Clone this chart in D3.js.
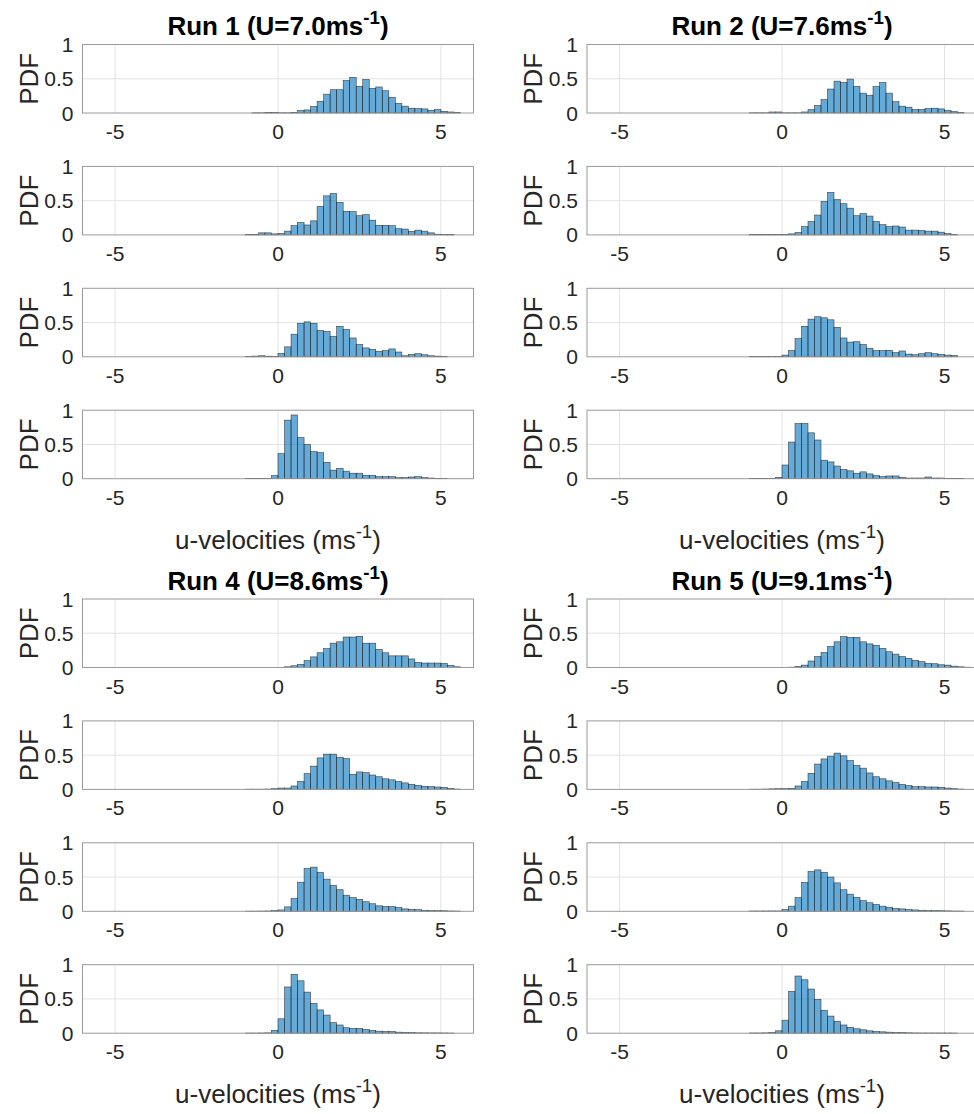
<!DOCTYPE html>
<html>
<head>
<meta charset="utf-8">
<script src="https://cdn.jsdelivr.net/npm/d3@7/dist/d3.min.js"></script>
<style>
  html, body { margin: 0; padding: 0; background: #ffffff; }
  svg { display: block; }
  text { font-family: "Liberation Sans", Arial, Helvetica, sans-serif; }
</style>
</head>
<body>
<svg id="chart" width="974" height="1114"></svg>
<script>
// Histogram bin edges (u-velocity, m/s)
const binEdges = [-5.8, -5.6, -5.4, -5.2, -5.0, -4.8, -4.6, -4.4, -4.2, -4.0,
  -3.8, -3.6, -3.4, -3.2, -3.0, -2.8, -2.6, -2.4, -2.2, -2.0,
  -1.8, -1.6, -1.4, -1.2, -1.0, -0.8, -0.6, -0.4, -0.2, 0.0,
  0.2, 0.4, 0.6, 0.8, 1.0, 1.2, 1.4, 1.6, 1.8, 2.0,
  2.2, 2.4, 2.6, 2.8, 3.0, 3.2, 3.4, 3.6, 3.8, 4.0,
  4.2, 4.4, 4.6, 4.8, 5.0, 5.2, 5.4, 5.6, 5.8];

// PDF values listed from the bin starting at this edge; bins to its left are empty
const firstListedEdge = -1.0;

// Run titles
const runNames = ["Run 1", "Run 2", "Run 4", "Run 5"];
const runSpeeds = ["7.0", "7.6", "8.6", "9.1"];

// PDF per run, one row per measurement height (top to bottom)
const pdfRun1 = [
  [0, 0.003, 0.003, 0.005, 0.005, 0.003, 0.003, 0.005, 0.035, 0.045, 0.095, 0.17, 0.275, 0.34, 0.34, 0.475, 0.52, 0.39, 0.49, 0.36, 0.38, 0.325, 0.23, 0.14, 0.10, 0.07, 0.065, 0.06, 0.04, 0.05, 0.025, 0.015, 0.005, 0],
  [0.003, 0.003, 0.03, 0.03, 0.015, 0.02, 0.055, 0.135, 0.18, 0.145, 0.205, 0.415, 0.57, 0.605, 0.475, 0.345, 0.34, 0.28, 0.295, 0.215, 0.14, 0.14, 0.135, 0.09, 0.085, 0.05, 0.07, 0.055, 0.03, 0.01, 0.005, 0.003, 0, 0],
  [0.003, 0.01, 0.015, 0.01, 0.003, 0.05, 0.145, 0.33, 0.49, 0.51, 0.49, 0.385, 0.37, 0.30, 0.445, 0.40, 0.275, 0.18, 0.13, 0.11, 0.08, 0.09, 0.115, 0.07, 0.015, 0.035, 0.045, 0.03, 0.015, 0.01, 0.005, 0, 0, 0],
  [0.005, 0.005, 0.005, 0.005, 0.045, 0.365, 0.855, 0.93, 0.60, 0.50, 0.395, 0.38, 0.24, 0.125, 0.15, 0.11, 0.08, 0.08, 0.05, 0.05, 0.03, 0.03, 0.03, 0.015, 0.015, 0.025, 0.03, 0.015, 0.01, 0.005, 0.003, 0, 0, 0]
];
const pdfRun2 = [
  [0.003, 0.003, 0.003, 0.015, 0.015, 0.003, 0.003, 0.003, 0.015, 0.05, 0.11, 0.195, 0.35, 0.465, 0.445, 0.495, 0.39, 0.29, 0.26, 0.385, 0.445, 0.29, 0.165, 0.10, 0.085, 0.05, 0.05, 0.065, 0.07, 0.06, 0.04, 0.02, 0.005, 0],
  [0.003, 0.003, 0.003, 0.005, 0.005, 0.005, 0.015, 0.035, 0.12, 0.195, 0.29, 0.49, 0.62, 0.515, 0.455, 0.39, 0.28, 0.31, 0.275, 0.195, 0.15, 0.12, 0.13, 0.115, 0.07, 0.07, 0.065, 0.055, 0.055, 0.04, 0.02, 0.005, 0, 0],
  [0.003, 0.003, 0.003, 0.003, 0.005, 0.025, 0.09, 0.265, 0.445, 0.55, 0.585, 0.57, 0.54, 0.43, 0.275, 0.215, 0.22, 0.18, 0.125, 0.09, 0.09, 0.095, 0.06, 0.085, 0.04, 0.03, 0.045, 0.06, 0.045, 0.035, 0.025, 0.02, 0, 0],
  [0.003, 0.003, 0.003, 0.003, 0.02, 0.2, 0.535, 0.805, 0.805, 0.67, 0.565, 0.27, 0.245, 0.185, 0.135, 0.115, 0.08, 0.10, 0.07, 0.045, 0.03, 0.04, 0.04, 0.02, 0.01, 0.01, 0.01, 0.025, 0.01, 0.01, 0.005, 0.005, 0.003, 0]
];
const pdfRun4 = [
  [0.002, 0.002, 0.002, 0.002, 0.002, 0.003, 0.01, 0.025, 0.045, 0.10, 0.155, 0.215, 0.275, 0.355, 0.375, 0.445, 0.445, 0.455, 0.355, 0.355, 0.265, 0.215, 0.17, 0.17, 0.17, 0.125, 0.075, 0.065, 0.065, 0.065, 0.06, 0.03, 0.01, 0],
  [0.003, 0.003, 0.003, 0.005, 0.01, 0.02, 0.02, 0.05, 0.115, 0.23, 0.34, 0.46, 0.515, 0.515, 0.47, 0.45, 0.22, 0.255, 0.245, 0.21, 0.185, 0.155, 0.14, 0.115, 0.095, 0.075, 0.06, 0.045, 0.04, 0.035, 0.03, 0.015, 0.005, 0],
  [0.002, 0.002, 0.003, 0.005, 0.01, 0.02, 0.065, 0.185, 0.425, 0.625, 0.645, 0.57, 0.47, 0.38, 0.315, 0.235, 0.20, 0.175, 0.14, 0.11, 0.08, 0.07, 0.07, 0.055, 0.035, 0.03, 0.025, 0.015, 0.01, 0.01, 0.008, 0.005, 0.003, 0],
  [0.002, 0.002, 0.003, 0.005, 0.04, 0.21, 0.675, 0.86, 0.765, 0.60, 0.435, 0.34, 0.265, 0.155, 0.12, 0.08, 0.07, 0.07, 0.055, 0.04, 0.03, 0.025, 0.025, 0.015, 0.01, 0.008, 0.006, 0.005, 0.004, 0.004, 0.003, 0.002, 0, 0]
];
const pdfRun5 = [
  [0.002, 0.002, 0.002, 0.002, 0.002, 0.003, 0.005, 0.015, 0.035, 0.095, 0.16, 0.22, 0.305, 0.375, 0.45, 0.44, 0.44, 0.375, 0.345, 0.325, 0.28, 0.23, 0.195, 0.16, 0.135, 0.105, 0.085, 0.06, 0.055, 0.04, 0.035, 0.02, 0.01, 0.005],
  [0.003, 0.003, 0.005, 0.008, 0.01, 0.01, 0.015, 0.05, 0.115, 0.235, 0.37, 0.445, 0.485, 0.53, 0.49, 0.42, 0.35, 0.31, 0.24, 0.185, 0.155, 0.125, 0.10, 0.075, 0.055, 0.04, 0.04, 0.035, 0.035, 0.03, 0.02, 0.01, 0.005, 0],
  [0.004, 0.004, 0.005, 0.005, 0.005, 0.025, 0.075, 0.20, 0.42, 0.58, 0.605, 0.57, 0.50, 0.415, 0.315, 0.25, 0.205, 0.155, 0.125, 0.10, 0.075, 0.06, 0.04, 0.035, 0.025, 0.02, 0.015, 0.01, 0.01, 0.008, 0.006, 0.004, 0.003, 0],
  [0.003, 0.003, 0.005, 0.01, 0.035, 0.19, 0.61, 0.835, 0.78, 0.645, 0.495, 0.335, 0.25, 0.175, 0.12, 0.085, 0.065, 0.05, 0.035, 0.025, 0.02, 0.015, 0.01, 0.008, 0.006, 0.004, 0.003, 0.003, 0.003, 0.003, 0.003, 0.002, 0, 0]
];
const runPdfs = [pdfRun1, pdfRun2, pdfRun4, pdfRun5];

// Axis ticks
const xTicks = [-5, 0, 5];
const yTicks = [0, 0.5, 1];
const yTickLabels = ["0", "0.5", "1"];
const xDomain = [-6, 6];
const yDomain = [0, 1];

// ---- layout ----
const columns = [{ x0: 82.5, x1: 473.5 }, { x0: 587, x1: 977 }];
const groups = [{ runs: [0, 1], top: 44.5 }, { runs: [2, 3], top: 599 }];
const rowStep = 121.9;
const panelH = 68.5;

const barFill = "#0072BD";
const textColor = "#262626";

const svg = d3.select("#chart");

const firstIdx = binEdges.indexOf(firstListedEdge);

function binsFor(vals) {
  return binEdges.slice(0, -1).map((e, i) => ({
    x0: e,
    x1: binEdges[i + 1],
    v: i < firstIdx ? 0 : (vals[i - firstIdx] || 0)
  }));
}

function superLabel(sel, base, sup, tail, size) {
  sel.append("tspan").text(base);
  sel.append("tspan").attr("dy", -size * 0.42).attr("font-size", size * 0.72).text(sup);
  sel.append("tspan").attr("dy", size * 0.42).text(tail);
}

groups.forEach(g => {
  g.runs.forEach((runIdx, c) => {
    const col = columns[c];
    const x = d3.scaleLinear().domain(xDomain).range([col.x0, col.x1]);
    const cx = x(0);

    // title
    const title = svg.append("text")
      .attr("x", cx).attr("y", g.top - 9.5)
      .attr("text-anchor", "middle")
      .attr("font-size", 26).attr("font-weight", "bold").attr("fill", "#000");
    superLabel(title, `${runNames[runIdx]} (U=${runSpeeds[runIdx]}ms`, "-1", ")", 26);

    runPdfs[runIdx].forEach((vals, r) => {
      const top = g.top + r * rowStep;
      const bottom = top + panelH;
      const y = d3.scaleLinear().domain(yDomain).range([bottom, top]);
      const p = svg.append("g");

      // grid
      p.selectAll(".gx").data(xTicks).join("line")
        .attr("x1", d => x(d)).attr("x2", d => x(d))
        .attr("y1", top).attr("y2", bottom)
        .attr("stroke", "#e3e3e3").attr("stroke-width", 1);
      p.selectAll(".gy").data(yTicks.slice(1, -1)).join("line")
        .attr("x1", col.x0).attr("x2", col.x1)
        .attr("y1", d => y(d)).attr("y2", d => y(d))
        .attr("stroke", "#e3e3e3").attr("stroke-width", 1);

      // bars
      p.selectAll("rect.bar").data(binsFor(vals)).join("rect")
        .attr("class", "bar")
        .attr("x", d => x(d.x0))
        .attr("width", d => x(d.x1) - x(d.x0))
        .attr("y", d => y(d.v))
        .attr("height", d => y(0) - y(d.v))
        .attr("fill", barFill).attr("fill-opacity", 0.6)
        .attr("stroke", "#1b1b1b").attr("stroke-opacity", 0.8).attr("stroke-width", 0.6);

      // frame
      p.append("rect")
        .attr("x", col.x0).attr("y", top)
        .attr("width", col.x1 - col.x0).attr("height", panelH)
        .attr("fill", "none").attr("stroke", "#9a9a9a").attr("stroke-width", 1);

      // x tick labels
      p.selectAll(".xt").data(xTicks).join("text")
        .attr("x", d => x(d)).attr("y", bottom + 26)
        .attr("text-anchor", "middle")
        .attr("font-size", 21).attr("fill", textColor)
        .text(d => d);

      // y tick labels
      p.selectAll(".yt").data(yTicks).join("text")
        .attr("x", col.x0 - 9).attr("y", d => y(d))
        .attr("text-anchor", "end").attr("dominant-baseline", "central")
        .attr("font-size", 21).attr("fill", textColor)
        .text((d, i) => yTickLabels[i]);

      // y label
      p.append("text")
        .attr("transform", `translate(${col.x0 - 45},${(top + bottom) / 2}) rotate(-90)`)
        .attr("text-anchor", "middle")
        .attr("font-size", 26).attr("fill", textColor)
        .text("PDF");
    });

    // x label
    const lastBottom = g.top + 3 * rowStep + panelH;
    const xl = svg.append("text")
      .attr("x", cx).attr("y", lastBottom + 70)
      .attr("text-anchor", "middle")
      .attr("font-size", 26).attr("fill", textColor);
    superLabel(xl, "u-velocities (ms", "-1", ")", 26);
  });
});
</script>
</body>
</html>
